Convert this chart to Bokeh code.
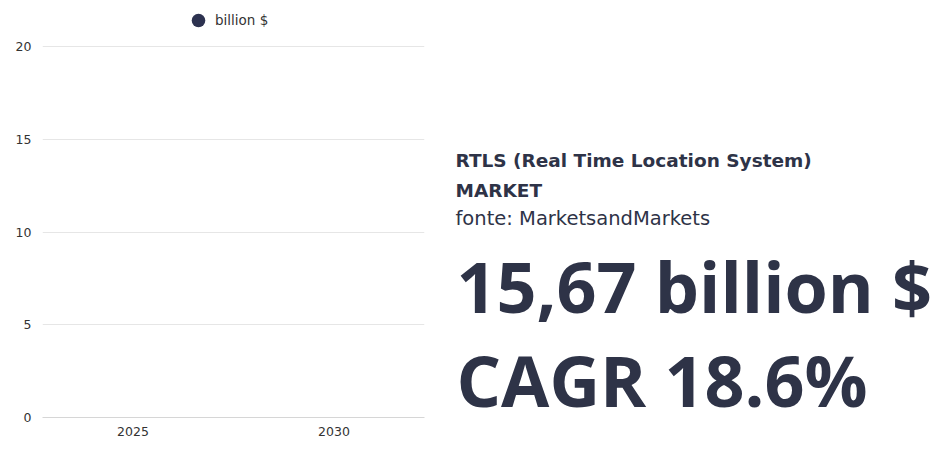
from bokeh.plotting import figure
from bokeh.layouts import row
from bokeh.models import Range1d, FactorRange, Legend, LegendItem
from bokeh.core.properties import value
from bokeh.embed import file_html
from bokeh.resources import INLINE

# data (bars are drawn at zero height in the reference)
years = ["2025", "2030"]
billions = [0, 0]
y_ticks = [0, 5, 10, 15, 20]
series_name = "billion $"

title_lines = ["RTLS (Real Time Location System)", "MARKET"]
source_line = "fonte: MarketsandMarkets"
big_lines = ["15,67 billion $", "CAGR 18.6%"]

dark = "#2e3347"
label_font = "DejaVu Sans"

# frame runs to the top edge so the legend can sit above the 20 line
p = figure(x_range=FactorRange(*years, range_padding=-0.05), y_range=Range1d(0, 22.48),
           width=440, height=455, output_backend="svg", toolbar_location=None,
           title=None,
           min_border_left=42, min_border_right=16, min_border_top=0, min_border_bottom=38)
p.outline_line_color = None

bars = p.vbar(x=years, top=billions, width=0.6, fill_color="#2d3250", line_color=None)
marker = p.scatter(x=years, y=billions, marker="circle", size=14,
                   fill_color="#2d3250", line_color=None)
marker.visible = False

p.yaxis.ticker = y_ticks
p.yaxis.axis_line_color = None
p.yaxis.major_tick_line_color = None
p.yaxis.minor_tick_line_color = None
p.yaxis.major_label_standoff = 5
p.yaxis.major_label_text_font = label_font
p.yaxis.major_label_text_font_size = "12.5px"
p.yaxis.major_label_text_color = "#333333"

p.xaxis.axis_line_color = "#d6d6d6"
p.xaxis.major_tick_line_color = None
p.xaxis.major_label_standoff = 3
p.xaxis.major_label_text_font = label_font
p.xaxis.major_label_text_font_size = "12.5px"
p.xaxis.major_label_text_color = "#333333"

p.xgrid.grid_line_color = None
p.ygrid.grid_line_color = "#e6e6e6"

legend = Legend(items=[LegendItem(label=series_name, renderers=[marker])],
                location=(139, 380), orientation="horizontal",
                glyph_width=34, glyph_height=34, label_standoff=0,
                padding=0, margin=0, border_line_color=None,
                background_fill_alpha=0,
                label_text_font=label_font, label_text_font_size="13.5px",
                label_text_color="#333333")
p.add_layout(legend, "center")

# right side text panel, same frame height as the chart
t = figure(x_range=Range1d(0, 502), y_range=Range1d(417, 0), title=None,
           width=502, height=455, output_backend="svg", toolbar_location=None,
           min_border_left=0, min_border_right=0, min_border_top=0, min_border_bottom=38)
t.axis.visible = False
t.grid.visible = False
t.outline_line_color = None

t.text(x=[15, 15], y=[160, 190], text=title_lines, text_font=value(label_font),
       text_font_style="bold", text_font_size="18.5px", text_color=dark,
       text_baseline="alphabetic")
t.text(x=[15], y=[218], text=[source_line], text_font=value(label_font),
       text_font_size="19.5px", text_color=dark, text_baseline="alphabetic")
t.text(x=[16, 16], y=[285, 379], text=big_lines, text_font=value("Open Sans"),
       text_font_style="bold", text_font_size="70px", text_color=dark,
       text_baseline="alphabetic")

layout = row(p, t)
open("out.html", "w").write(file_html(layout, INLINE))
